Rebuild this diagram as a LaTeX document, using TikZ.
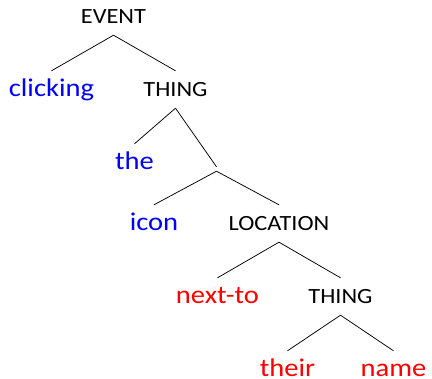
\documentclass[tikz,border=0pt]{standalone}
\usepackage{fontspec}
\setmainfont[FakeStretch=1.12]{Carlito}
\begin{document}
\begin{tikzpicture}[level distance=73pt,
        cat/.style={font=\fontsize{21.7}{26}\selectfont, inner xsep=2pt, inner ysep=0pt,
            text height=26pt, text depth=11pt},
        wblue/.style={cat, font=\fontsize{25.5}{30}\selectfont, text=blue},
        wred/.style={wblue, text=red},
        wleaf/.style={wred, text depth=1pt},
        level 1/.style={sibling distance=124pt},
        level 2/.style={sibling distance=82pt},
        level 3/.style={sibling distance=125pt},
        level 4/.style={sibling distance=123pt},
        level 5/.style={sibling distance=106pt},
        edge from parent path={(\tikzparentnode.south) -- (\tikzchildnode.north)},
        edge from parent/.style={draw, line width=0.75pt}]

        \useasboundingbox (0,0) rectangle (432pt,-379pt);

        \node[cat] (event) at (113.5pt,-16.5pt) {EVENT}
            child {node[wblue] (clicking) {clicking}}
            child {node[cat] (thing) {THING}
                child {node[wblue] (the) {the}}
                child[level distance=79.5pt] {node[inner sep=0pt, minimum height=4pt] (joint) {}
                    child[level distance=54.5pt] {node[wblue] (icon) {icon}}
                    child[level distance=54.5pt] {node[cat] (location) {LOCATION}
                        child[level distance=73pt] {node[wred] (nextto) {next-to}}
                        child[level distance=73pt] {node[cat] (thing2) {THING}
                            child[level distance=68pt] {node[wleaf] (their) {their}}
                            child[level distance=68pt] {node[wleaf] (name) {name}}}}}};
        \end{tikzpicture}
\end{document}
